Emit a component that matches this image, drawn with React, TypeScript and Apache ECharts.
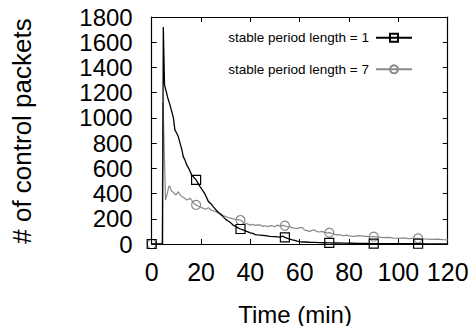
import React, { useEffect, useRef } from "react";
import * as echarts from "echarts";

const FONT = "'Liberation Sans', Arial, Helvetica, sans-serif";

const xTicks = [0, 20, 40, 60, 80, 100, 120];
const yTicks = [0, 200, 400, 600, 800, 1000, 1200, 1400, 1600, 1800];
const markerTimes = [0, 18, 36, 54, 72, 90, 108];

const seriesNames = ["stable period length = 1", "stable period length = 7"];

const time1 = [
  0, 4.4, 4.7, 5.2, 5.8, 6.5, 7.4, 8.0, 8.8, 9.4, 10.1, 10.8, 11.5, 12.2, 12.8, 13.5, 14.2, 15.0, 16.2, 17.0,
  18, 19.0, 19.6, 20.5, 21.5, 23, 24, 25, 26, 27, 28, 29, 30, 31, 32, 33, 34, 35, 36, 37, 38, 39, 40, 41, 42,
  43, 44, 46, 48, 50, 52, 53, 54, 55, 56, 57, 58, 59, 60, 62, 64, 66, 68, 70, 72, 75, 78, 81, 84, 87, 90, 95,
  100, 104, 108, 112, 116, 120,
];
const packets1 = [
  0, 0, 1720, 1262, 1215, 1160, 1103, 1060, 1000, 905, 880, 850, 800, 750, 693, 665, 627, 600, 548, 530,
  508, 475, 455, 430, 400, 336, 320, 295, 272, 250, 238, 215, 195, 182, 168, 150, 140, 128, 119, 112, 104, 96, 88, 84, 75,
  72, 70, 66, 60, 58, 55, 62, 52, 45, 38, 32, 28, 22, 18, 16, 14, 13, 11, 10, 9, 8, 7, 6, 5, 4, 3, 3,
  2, 2, 2, 1, 1, 1,
];

const time7 = [
  0, 4.2, 4.6, 5.6, 6.3, 7.0, 7.4, 8.0, 8.5, 9.2, 9.9, 10.8, 11.5, 12.2, 13.0, 14.2, 15.0, 15.5, 16.5, 17.3,
  18, 19, 20, 21, 22, 23, 24, 25, 26, 27, 28, 29, 30, 31, 32, 33, 34, 35, 36, 37, 38, 39, 40, 41, 42, 43, 44,
  45, 46, 47, 48, 49, 50, 51, 52, 53, 54, 55, 56, 57, 58, 59, 60, 61, 62, 63, 64, 65, 66, 67, 68, 69, 70, 71,
  72, 73, 74, 75, 76, 77, 78, 79, 80, 82, 84, 86, 88, 90, 92, 94, 96, 98, 100, 102, 104, 106, 108, 110, 112,
  114, 116, 118, 120,
];
const packets7 = [
  0, 0, 1125, 349, 400, 460, 455, 420, 415, 400, 389, 415, 390, 375, 370, 349, 355, 363, 340, 320,
  310, 300, 290, 283, 276, 288, 270, 262, 258, 245, 230, 225, 217, 210, 205, 200, 195, 193, 190, 175, 165, 158, 150, 155, 148, 152, 150,
  140, 145, 138, 145, 143, 138, 150, 142, 148, 145, 135, 138, 128, 125, 122, 130, 132, 110, 106, 100, 108, 112, 98, 95, 100, 92, 88,
  90, 85, 78, 71, 75, 68, 66, 70, 64, 60, 66, 62, 58, 58, 54, 50, 52, 46, 45, 48, 42, 44, 45, 40, 38,
  36, 38, 34, 32,
];

function buildData(times: number[], values: number[], symbol: string) {
  return times.map((t, i) =>
    markerTimes.includes(t)
      ? { value: [t, values[i]], symbol }
      : { value: [t, values[i]], symbol: "none" }
  );
}

const plain = (v: number) => String(v);

export default function App() {
  const ref = useRef<HTMLDivElement>(null);

  useEffect(() => {
    if (!ref.current) return;
    const chart = echarts.init(ref.current, null, { renderer: "svg" });
    const axisCommon = {
      type: "value" as const,
      axisLine: { show: true, onZero: false, lineStyle: { color: "#000", width: 1.2 } },
      axisTick: { show: true, inside: true, length: 5, lineStyle: { color: "#000", width: 1 } },
      splitLine: { show: false },
    };
    chart.setOption({
      animation: false,
      backgroundColor: "#fff",
      grid: {
        left: 151.7,
        top: 17,
        right: 27.3,
        bottom: 82,
        show: false,
        containLabel: false,
        outerBoundsMode: "none",
      },
      legend: {
        orient: "vertical",
        align: "right",
        right: 62,
        top: 30.7,
        padding: 0,
        itemWidth: 36,
        itemHeight: 10,
        itemGap: 17.6,
        textStyle: { fontSize: 13.5, color: "#000", fontFamily: FONT, padding: [0, 2, 0, 0] },
        data: seriesNames,
      },
      xAxis: [
        {
          ...axisCommon,
          position: "bottom",
          min: xTicks[0],
          max: xTicks[xTicks.length - 1],
          interval: xTicks[1] - xTicks[0],
          axisLabel: {
            fontSize: 25,
            color: "#000",
            fontFamily: FONT,
            margin: 15,
            formatter: plain,
            showMinLabel: true,
            showMaxLabel: true,
            hideOverlap: false,
          },
        },
        {
          ...axisCommon,
          position: "top",
          min: xTicks[0],
          max: xTicks[xTicks.length - 1],
          interval: xTicks[1] - xTicks[0],
          axisLabel: { show: false },
        },
      ],
      yAxis: [
        {
          ...axisCommon,
          position: "left",
          min: yTicks[0],
          max: yTicks[yTicks.length - 1],
          interval: yTicks[1] - yTicks[0],
          axisLabel: {
            fontSize: 24,
            lineHeight: 24,
            color: "#000",
            fontFamily: FONT,
            margin: 19,
            formatter: plain,
            showMinLabel: true,
            showMaxLabel: true,
          },
        },
        {
          ...axisCommon,
          position: "right",
          min: yTicks[0],
          max: yTicks[yTicks.length - 1],
          interval: yTicks[1] - yTicks[0],
          axisLabel: { show: false },
        },
      ],
      graphic: [
        {
          type: "text",
          x: 22,
          y: 131,
          rotation: Math.PI / 2,
          style: {
            text: "# of control packets",
            fontSize: 26,
            fontFamily: FONT,
            fill: "#000",
            align: "center",
            verticalAlign: "middle",
          },
        },
        {
          type: "text",
          x: 295,
          y: 314,
          style: {
            text: "Time (min)",
            fontSize: 24,
            fontFamily: FONT,
            fill: "#000",
            align: "center",
            verticalAlign: "middle",
          },
        },
      ],
      series: [
        {
          name: seriesNames[1],
          type: "line",
          z: 2,
          data: buildData(time7, packets7, "circle"),
          symbol: "circle",
          symbolSize: 9,
          lineStyle: { color: "#8a8a8a", width: 1.2 },
          itemStyle: { color: "rgba(255,255,255,0)", borderColor: "#8a8a8a", borderWidth: 1.2 },
          emphasis: { disabled: true },
        },
        {
          name: seriesNames[0],
          type: "line",
          z: 3,
          data: buildData(time1, packets1, "rect"),
          symbol: "rect",
          symbolSize: 9,
          lineStyle: { color: "#000", width: 1.3 },
          itemStyle: { color: "rgba(255,255,255,0)", borderColor: "#000", borderWidth: 1.2 },
          emphasis: { disabled: true },
        },
      ],
    });
    return () => chart.dispose();
  }, []);

  return (
    <div
      ref={ref}
      style={{ width: 475, height: 326, position: "absolute", left: 0, top: 0 }}
    />
  );
}
